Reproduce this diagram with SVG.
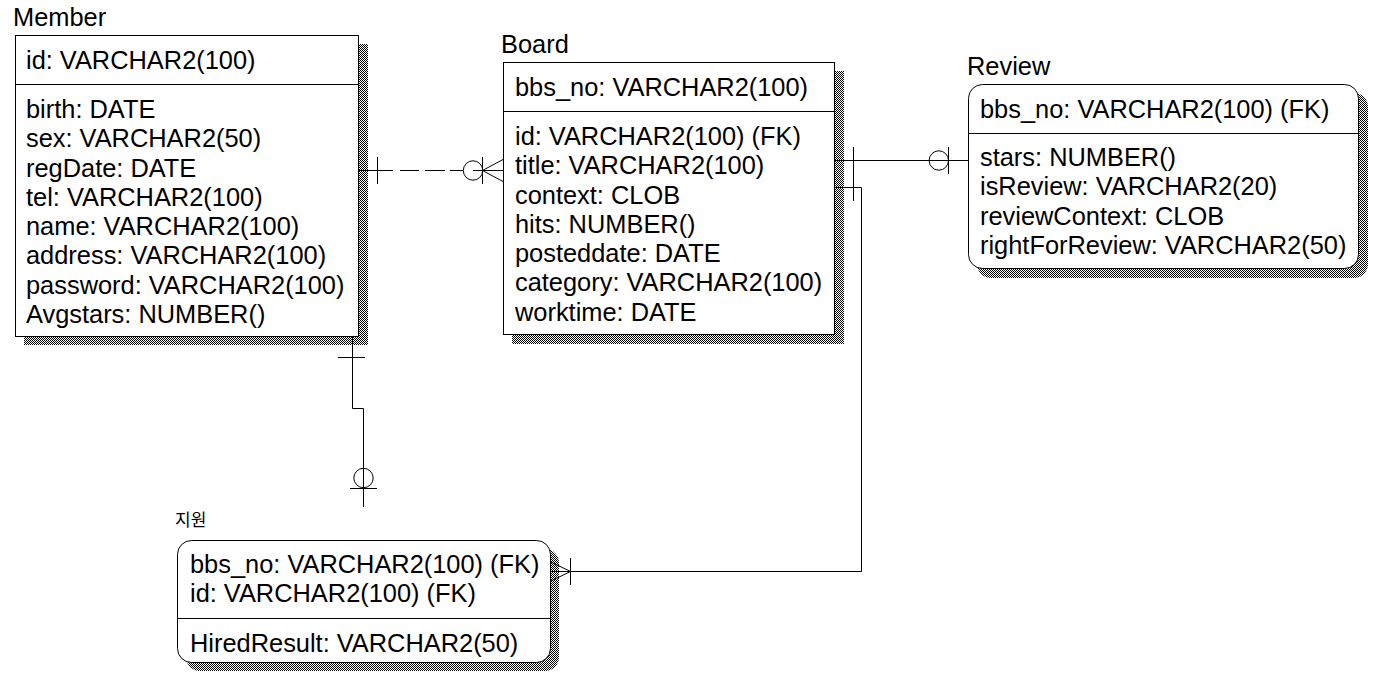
<svg xmlns="http://www.w3.org/2000/svg" width="1387" height="694" viewBox="0 0 1387 694">
<defs>
<pattern id="dither" width="2" height="2" patternUnits="userSpaceOnUse">
<rect width="2" height="2" fill="#fff"/>
<rect width="1" height="1" fill="#000"/>
<rect x="1" y="1" width="1" height="1" fill="#000"/>
</pattern>
</defs>
<style>
.box{fill:#fff;stroke:#000;stroke-width:1}
.shadow{fill:url(#dither);stroke:none}
.div{stroke:#000;stroke-width:1}
.t{font-family:'Liberation Sans',Arial,sans-serif;font-size:25.4px;fill:#000}
.k{font-family:'Noto Sans CJK KR','Liberation Sans',sans-serif;font-size:17px;fill:#000}
.ln{stroke:#000;stroke-width:1;fill:none}
</style>
<rect width="1387" height="694" fill="#fff"/>

<g id="member">
<text class="t" x="13" y="26">Member</text>
<rect class="shadow" x="24" y="44" width="344" height="301"/>
<rect class="box" x="15.5" y="35.5" width="343" height="301"/>
<line class="div" x1="15.5" y1="84.5" x2="358.5" y2="84.5"/>
<text class="t" x="26" y="69">id: VARCHAR2(100)</text>
<text class="t" x="26" y="118">birth: DATE</text>
<text class="t" x="26" y="147.25">sex: VARCHAR2(50)</text>
<text class="t" x="26" y="176.5">regDate: DATE</text>
<text class="t" x="26" y="205.75">tel: VARCHAR2(100)</text>
<text class="t" x="26" y="235">name: VARCHAR2(100)</text>
<text class="t" x="26" y="264.25">address: VARCHAR2(100)</text>
<text class="t" x="26" y="293.5">password: VARCHAR2(100)</text>
<text class="t" x="26" y="322.75">Avgstars: NUMBER()</text>
</g>

<g id="board">
<text class="t" x="501" y="53">Board</text>
<rect class="shadow" x="512" y="71" width="332" height="273"/>
<rect class="box" x="503.5" y="62.5" width="331" height="272"/>
<line class="div" x1="503.5" y1="111.5" x2="834.5" y2="111.5"/>
<text class="t" x="515" y="96">bbs_no: VARCHAR2(100)</text>
<text class="t" x="515" y="145">id: VARCHAR2(100) (FK)</text>
<text class="t" x="515" y="174.25">title: VARCHAR2(100)</text>
<text class="t" x="515" y="203.5">context: CLOB</text>
<text class="t" x="515" y="232.75">hits: NUMBER()</text>
<text class="t" x="515" y="262">posteddate: DATE</text>
<text class="t" x="515" y="291.25">category: VARCHAR2(100)</text>
<text class="t" x="515" y="320.5">worktime: DATE</text>
</g>

<g id="review">
<text class="t" x="967" y="75">Review</text>
<rect class="shadow" x="977" y="93" width="391" height="185" rx="14"/>
<rect class="box" x="968.5" y="84.5" width="390" height="184" rx="14"/>
<line class="div" x1="968.5" y1="133.5" x2="1358.5" y2="133.5"/>
<text class="t" x="980" y="118">bbs_no: VARCHAR2(100) (FK)</text>
<text class="t" x="980" y="166">stars: NUMBER()</text>
<text class="t" x="980" y="195.25">isReview: VARCHAR2(20)</text>
<text class="t" x="980" y="224.5">reviewContext: CLOB</text>
<text class="t" x="980" y="253.75">rightForReview: VARCHAR2(50)</text>
</g>

<g id="apply">
<text class="k" x="175" y="526">지원</text>
<rect class="shadow" x="186" y="549" width="373" height="122" rx="14"/>
<rect class="box" x="177.5" y="540.5" width="373" height="122" rx="14"/>
<line class="div" x1="177.5" y1="618.5" x2="550.5" y2="618.5"/>
<text class="t" x="190" y="573">bbs_no: VARCHAR2(100) (FK)</text>
<text class="t" x="190" y="602.25">id: VARCHAR2(100) (FK)</text>
<text class="t" x="190" y="652">HiredResult: VARCHAR2(50)</text>
</g>

<g id="connectors">
<!-- Member - Board (dashed, one to zero-or-many) -->
<path class="ln" d="M358 170.5 H463" stroke-dasharray="35 7 19 6 20 5 13"/>
<path class="ln" d="M377.5 157 V184"/>
<circle class="ln" cx="473" cy="170.5" r="9.7"/>
<path class="ln" d="M473 170.5 H503"/>
<path class="ln" d="M482.5 157 V184"/>
<path class="ln" d="M482.5 170.5 L503 159.5 M482.5 170.5 L503 181.5"/>

<!-- Board - Review (one to zero-or-one) -->
<path class="ln" d="M835 160.5 H968"/>
<path class="ln" d="M853.5 147 V174"/>
<circle class="ln" cx="938.8" cy="160.5" r="9.7"/>
<path class="ln" d="M948.5 147 V174"/>

<!-- Board - 지원 (one to many) -->
<path class="ln" d="M835 187.5 H861.5 V571.5 H551"/>
<path class="ln" d="M853.5 174 V201"/>
<path class="ln" d="M570.5 558 V585"/>
<path class="ln" d="M570.5 571.5 L551 562 M570.5 571.5 L551 581"/>

<!-- Member - 지원 (one to zero-or-one) -->
<path class="ln" d="M352.5 336 V408.5 H363.5 V507"/>
<path class="ln" d="M338 357.5 H365"/>
<circle class="ln" cx="363.5" cy="478" r="9.7"/>
<path class="ln" d="M350 488.5 H377"/>
</g>
</svg>
